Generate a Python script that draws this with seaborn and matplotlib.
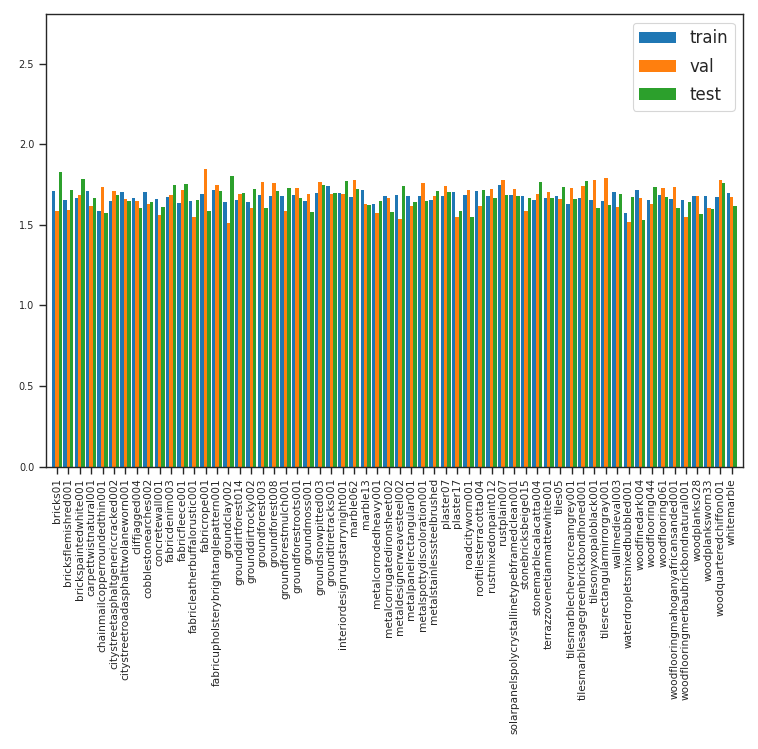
import numpy as np
import pandas as pd
import matplotlib
matplotlib.use("Agg")
import matplotlib.pyplot as plt
import seaborn as sns

materials = [
    "bricks01", "bricksflemishred001", "brickspaintedwhite001", "carpettwistnatural001",
    "chainmailcopperroundedthin001", "citystreetasphaltgenericcracked002",
    "citystreetroadasphalttwolaneworn001", "cliffjagged004", "cobblestonearches002",
    "concretewall001", "fabricdenim003", "fabricfleece001", "fabricleatherbuffalorustic001",
    "fabricrope001", "fabricupholsterybrightanglepattern001", "groundclay002",
    "grounddirtforest014", "grounddirtrocky002", "groundforest003", "groundforest008",
    "groundforestmulch001", "groundforestroots001", "groundmoss001", "groundsnowpitted003",
    "groundtiretracks001", "interiordesignrugstarrynight001", "marble062", "marble13",
    "metalcorrodedheavy001", "metalcorrugatedironsheet002", "metaldesignerweavesteel002",
    "metalpanelrectangular001", "metalspottydiscoloration001", "metalstainlesssteelbrushed",
    "plaster07", "plaster17", "roadcityworn001", "rooftilesterracotta004",
    "rustmixedonpaint012", "rustplain007", "solarpanelspolycrystallinetypebframedclean001",
    "stonebricksbeige015", "stonemarblecalacatta004", "terrazzovenetianmattewhite001",
    "tiles05", "tilesmarblechevroncreamgrey001", "tilesmarblesagegreenbrickbondhoned001",
    "tilesonyxopaloblack001", "tilesrectangularmirrorgray001", "wallmedieval003",
    "waterdropletsmixedbubbled001", "woodfinedark004", "woodflooring044", "woodflooring061",
    "woodflooringmahoganyafricansanded001", "woodflooringmerbaubrickbondnatural001",
    "woodplanks028", "woodplanksworn33", "woodquarteredchiffon001", "whitemarble",
]

train = [
    1.708, 1.652, 1.665, 1.708, 1.584, 1.646, 1.702, 1.665, 1.702, 1.658,
    1.671, 1.634, 1.646, 1.689, 1.714, 1.640, 1.652, 1.640, 1.683, 1.677,
    1.677, 1.683, 1.646, 1.696, 1.739, 1.696, 1.671, 1.714, 1.627, 1.677,
    1.683, 1.677, 1.677, 1.652, 1.677, 1.702, 1.683, 1.708, 1.677, 1.745,
    1.683, 1.677, 1.652, 1.665, 1.677, 1.627, 1.665, 1.652, 1.646, 1.702,
    1.571, 1.714, 1.652, 1.683, 1.658, 1.652, 1.677, 1.677, 1.671, 1.696,
]
val = [
    1.584, 1.590, 1.683, 1.615, 1.733, 1.708, 1.658, 1.646, 1.627, 1.559,
    1.683, 1.714, 1.547, 1.845, 1.745, 1.509, 1.689, 1.602, 1.764, 1.758,
    1.584, 1.727, 1.689, 1.764, 1.689, 1.689, 1.776, 1.627, 1.571, 1.665,
    1.534, 1.615, 1.758, 1.677, 1.739, 1.547, 1.714, 1.615, 1.720, 1.776,
    1.720, 1.584, 1.689, 1.702, 1.658, 1.727, 1.739, 1.776, 1.789, 1.609,
    1.516, 1.665, 1.627, 1.727, 1.733, 1.547, 1.677, 1.602, 1.776, 1.671,
]
test = [
    1.826, 1.714, 1.783, 1.665, 1.571, 1.683, 1.646, 1.602, 1.640, 1.609,
    1.745, 1.752, 1.652, 1.584, 1.708, 1.801, 1.696, 1.720, 1.602, 1.708,
    1.727, 1.665, 1.578, 1.745, 1.696, 1.770, 1.720, 1.621, 1.646, 1.578,
    1.739, 1.640, 1.646, 1.708, 1.702, 1.584, 1.547, 1.714, 1.665, 1.683,
    1.677, 1.665, 1.764, 1.665, 1.733, 1.658, 1.770, 1.602, 1.621, 1.689,
    1.671, 1.528, 1.733, 1.671, 1.602, 1.640, 1.565, 1.596, 1.758, 1.615,
]

splits = ["train", "val", "test"]
colors = ["#1f77b4", "#ff7f0e", "#2ca02c"]

df = pd.DataFrame({"material": materials, "train": train, "val": val, "test": test})
long_df = df.melt(id_vars="material", value_vars=splits, var_name="split", value_name="value")

sns.set_style("ticks")
sns.set_context("paper")

fig, ax = plt.subplots(figsize=(7.58, 7.49), dpi=100)
sns.barplot(data=long_df, x="material", y="value", hue="split", hue_order=splits,
            palette=colors, saturation=1, width=0.9, linewidth=0, errorbar=None, ax=ax)

ax.set_xlim(-0.97, len(materials) - 0.03)
ax.set_ylim(0, 2.806)
ax.set_yticks([0.0, 0.5, 1.0, 1.5, 2.0, 2.5])
ax.set_xlabel("")
ax.set_ylabel("")
ax.tick_params(axis="x", labelrotation=90, labelsize=7.6)
ax.tick_params(axis="y", labelsize=7)

handles, labels = ax.get_legend_handles_labels()
ax.legend(handles, labels, loc="upper right", fontsize=12, labelspacing=0.62,
          handlelength=2.2)

fig.subplots_adjust(left=0.0603, right=0.980, top=0.981, bottom=0.377)
fig.savefig("out.png", dpi=100)
